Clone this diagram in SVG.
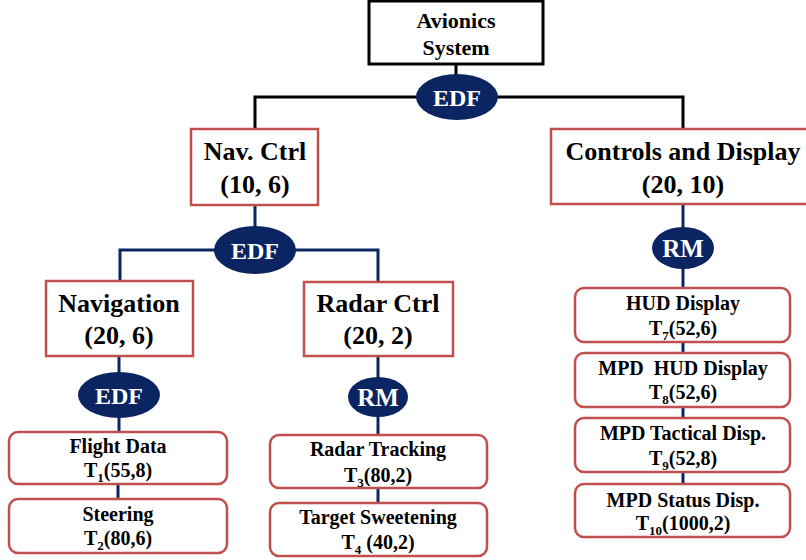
<svg xmlns="http://www.w3.org/2000/svg" width="806" height="560" viewBox="0 0 806 560">
  <style>
    text { font-family: "Liberation Serif", "Times New Roman", serif; font-weight: bold; text-anchor: middle; fill: #000; }
    .big { font-size: 26px; }
    .top { font-size: 22px; }
    .small { font-size: 20px; }
    .sub { font-size: 13px; }
    .sched { fill: #fff; font-size: 24px; }
    .box { fill: #fff; stroke: #c0504d; stroke-width: 2.5; }
    .task { fill: #fff; stroke: #c0504d; stroke-width: 2.5; }
    .oval { fill: #0b2462; }
    .wire-k { fill: none; stroke: #000; stroke-width: 3; }
    .wire-b { fill: none; stroke: #0b2462; stroke-width: 3; }
  </style>

  <!-- connectors -->
  <g id="connectors">
    <polyline class="wire-k" points="456,64 456,97"/>
    <polyline class="wire-k" points="255,130 255,97 683,97 683,130"/>
    <polyline class="wire-b" points="255,205 255,250"/>
    <polyline class="wire-b" points="120,281 120,250 378,250 378,282"/>
    <polyline class="wire-b" points="683,204 683,288"/>
    <polyline class="wire-b" points="119,356 119,432"/>
    <polyline class="wire-b" points="118,484 118,499"/>
    <polyline class="wire-b" points="378,356 378,435"/>
    <polyline class="wire-b" points="378,488 378,503"/>
    <polyline class="wire-b" points="683,342 683,484"/>
  </g>

  <!-- root -->
  <g id="avionics">
    <rect x="369" y="1" width="174" height="63" fill="#fff" stroke="#000" stroke-width="3"/>
    <text class="top" x="456" y="28">Avionics</text>
    <text class="top" x="456" y="55">System</text>
  </g>

  <!-- scheduler ovals -->
  <g id="sched-root">
    <ellipse class="oval" cx="457" cy="97" rx="41" ry="23"/>
    <text class="sched" x="457" y="106">EDF</text>
  </g>
  <g id="sched-nav">
    <ellipse class="oval" cx="255" cy="250" rx="41" ry="24"/>
    <text class="sched" x="255" y="259">EDF</text>
  </g>
  <g id="sched-controls">
    <ellipse class="oval" cx="683" cy="248" rx="31" ry="21"/>
    <text class="sched" x="683" y="257" style="font-size:25px">RM</text>
  </g>
  <g id="sched-navigation">
    <ellipse class="oval" cx="119" cy="395" rx="41" ry="23"/>
    <text class="sched" x="119" y="404">EDF</text>
  </g>
  <g id="sched-radar">
    <ellipse class="oval" cx="378" cy="397" rx="30" ry="20"/>
    <text class="sched" x="378" y="406" style="font-size:25px">RM</text>
  </g>

  <!-- second level -->
  <g id="nav-ctrl">
    <rect class="box" x="191" y="129" width="127" height="76"/>
    <text class="big" x="255" y="160">Nav. Ctrl</text>
    <text class="big" x="255" y="193">(10, 6)</text>
  </g>
  <g id="controls-display">
    <rect class="box" x="551" y="129" width="262" height="75"/>
    <text class="big" x="683" y="160">Controls and Display</text>
    <text class="big" x="683" y="193">(20, 10)</text>
  </g>

  <!-- third level -->
  <g id="navigation">
    <rect class="box" x="46" y="281" width="147" height="75"/>
    <text class="big" x="119" y="312">Navigation</text>
    <text class="big" x="119" y="344">(20, 6)</text>
  </g>
  <g id="radar-ctrl">
    <rect class="box" x="304" y="282" width="149" height="74"/>
    <text class="big" x="378" y="312">Radar Ctrl</text>
    <text class="big" x="378" y="344">(20, 2)</text>
  </g>

  <!-- tasks -->
  <g id="t1">
    <rect class="task" x="9" y="432" width="218" height="52" rx="9"/>
    <text class="small" x="118" y="453">Flight Data</text>
    <text class="small" x="118" y="477">T<tspan class="sub" dy="5">1</tspan><tspan dy="-5">(55,8)</tspan></text>
  </g>
  <g id="t2">
    <rect class="task" x="9" y="499" width="218" height="54" rx="9"/>
    <text class="small" x="118" y="521">Steering</text>
    <text class="small" x="118" y="545">T<tspan class="sub" dy="5">2</tspan><tspan dy="-5">(80,6)</tspan></text>
  </g>
  <g id="t3">
    <rect class="task" x="270" y="435" width="217" height="53" rx="9"/>
    <text class="small" x="378" y="456">Radar Tracking</text>
    <text class="small" x="378" y="482">T<tspan class="sub" dy="5">3</tspan><tspan dy="-5">(80,2)</tspan></text>
  </g>
  <g id="t4">
    <rect class="task" x="270" y="503" width="217" height="53" rx="9"/>
    <text class="small" x="378" y="524">Target Sweetening</text>
    <text class="small" x="378" y="549">T<tspan class="sub" dy="5">4</tspan><tspan dy="-5"> (40,2)</tspan></text>
  </g>
  <g id="t7">
    <rect class="task" x="575" y="288" width="215" height="54" rx="9"/>
    <text class="small" x="683" y="310">HUD Display</text>
    <text class="small" x="683" y="335">T<tspan class="sub" dy="5">7</tspan><tspan dy="-5">(52,6)</tspan></text>
  </g>
  <g id="t8">
    <rect class="task" x="575" y="353" width="215" height="54" rx="9"/>
    <text class="small" x="683" y="375" xml:space="preserve">MPD  HUD Display</text>
    <text class="small" x="683" y="399">T<tspan class="sub" dy="5">8</tspan><tspan dy="-5">(52,6)</tspan></text>
  </g>
  <g id="t9">
    <rect class="task" x="575" y="418" width="215" height="54" rx="9"/>
    <text class="small" x="683" y="440">MPD Tactical Disp.</text>
    <text class="small" x="683" y="465">T<tspan class="sub" dy="5">9</tspan><tspan dy="-5">(52,8)</tspan></text>
  </g>
  <g id="t10">
    <rect class="task" x="575" y="484" width="215" height="53" rx="9"/>
    <text class="small" x="683" y="507">MPD Status Disp.</text>
    <text class="small" x="683" y="530">T<tspan class="sub" dy="5">10</tspan><tspan dy="-5">(1000,2)</tspan></text>
  </g>
</svg>
